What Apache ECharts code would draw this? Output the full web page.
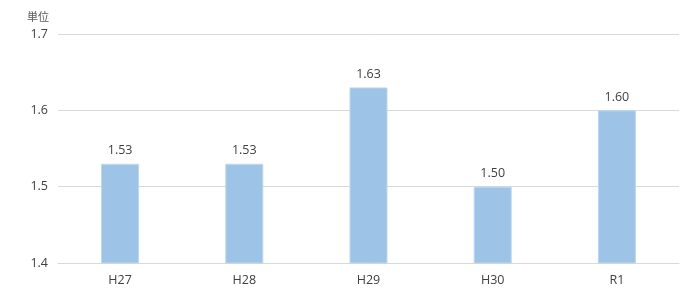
<!DOCTYPE html>
<html><head><meta charset="utf-8">
<script src="https://cdn.jsdelivr.net/npm/echarts@6/dist/echarts.min.js"></script>
<style>html,body{margin:0;padding:0;background:#fff}#c{width:700px;height:295px}</style>
</head><body><div id="c"></div>
<script>
const categories = ['H27', 'H28', 'H29', 'H30', 'R1'];
const values = [1.53, 1.53, 1.63, 1.50, 1.60];
const unitLabel = '単位';

const chart = echarts.init(document.getElementById('c'), null, {renderer: 'canvas'});
chart.setOption({
  animation: false,
  textStyle: {fontFamily: '"Open Sans", "Noto Sans CJK JP", sans-serif'},
  grid: {left: 58, right: 21, top: 34, bottom: 32, containLabel: false},
  graphic: [{type: 'text', left: 27, top: 11, style: {text: unitLabel, fill: '#595959', font: '11px "Noto Sans CJK JP"'}}],
  xAxis: {
    type: 'category', data: categories,
    axisLine: {show: true, lineStyle: {color: '#d9d9d9', width: 1}},
    axisTick: {show: false},
    axisLabel: {color: '#404040', fontSize: 12.5, margin: 11}
  },
  yAxis: {
    type: 'value', min: 1.4, max: 1.7, interval: 0.1,
    axisLine: {show: false}, axisTick: {show: false},
    splitLine: {lineStyle: {color: '#d9d9d9', width: 1}},
    axisLabel: {color: '#404040', fontSize: 12.5, margin: 10, formatter: v => v.toFixed(1)}
  },
  series: [{
    type: 'bar', data: values, barWidth: 38,
    itemStyle: {color: '#9dc3e6', borderColor: '#bdd7ee', borderWidth: 1},
    label: {show: true, position: 'top', distance: 7, color: '#404040', fontSize: 12.5, formatter: p => p.value.toFixed(2)}
  }]
});
</script></body></html>
